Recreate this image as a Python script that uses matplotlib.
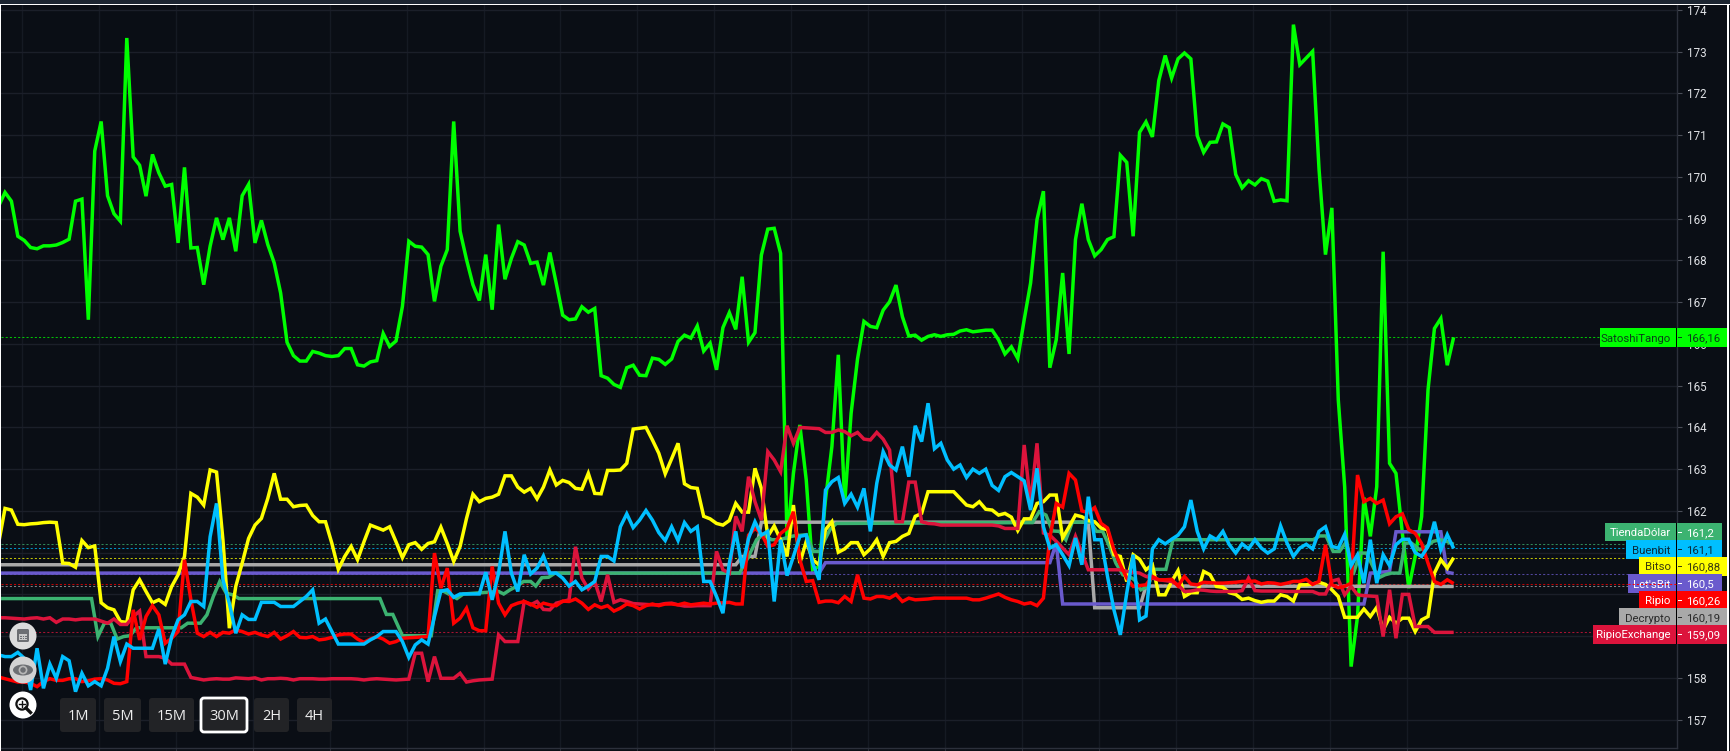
import numpy as np
import matplotlib
matplotlib.use('Agg')
import matplotlib.pyplot as plt
from matplotlib.patches import Rectangle, FancyBboxPatch, Ellipse, Circle
from matplotlib.lines import Line2D
from matplotlib.transforms import Affine2D

# Each list starts one 30 minute candle before the left edge (index -1)
satoshi = [
    169.30, 169.63, 169.42, 168.58, 168.48, 168.31, 168.28, 168.35, 168.35, 168.37,
    168.43, 168.51, 169.42, 169.47, 166.58, 170.62, 171.33, 169.55, 169.12, 168.94,
    173.33, 170.48, 170.28, 169.54, 170.54, 170.10, 169.78, 169.82, 168.42, 170.23,
    168.30, 168.31, 167.42, 168.34, 169.02, 168.50, 169.02, 168.22, 169.55, 169.82,
    168.42, 168.96, 168.38, 167.94, 167.22, 166.04, 165.72, 165.59, 165.59, 165.82,
    165.78, 165.72, 165.70, 165.72, 165.89, 165.89, 165.50, 165.47, 165.57, 165.60,
    166.25, 165.94, 166.07, 166.90, 168.46, 168.34, 168.32, 168.14, 167.02, 167.86,
    168.26, 171.33, 168.70, 168.02, 167.42, 167.04, 168.14, 166.82, 168.86,
    167.55, 168.05, 168.45, 168.37, 167.93, 167.96, 167.41, 168.19, 167.45, 166.69,
    166.58, 166.60, 166.89, 166.76, 166.85, 165.24, 165.18, 165.03, 164.96, 165.43,
    165.49, 165.25, 165.24, 165.66, 165.63, 165.51, 165.64, 166.06, 166.21, 166.14,
    166.43, 165.83, 166.02, 165.38, 166.39, 166.75, 166.35, 167.61, 166.04, 166.27,
    168.13, 168.75, 168.77, 168.17,
    161.30, 162.90, 164.06, 162.74, 160.59, 160.67, 162.26, 163.54, 165.74, 162.18,
    164.34, 165.64, 166.54, 166.42, 166.39, 166.81, 167.01, 167.41, 166.65, 166.19,
    166.21, 166.09, 166.18, 166.22, 166.18, 166.22, 166.23, 166.31, 166.34, 166.29,
    166.31, 166.33, 166.33,
    166.10, 165.76, 165.93, 165.65, 166.58, 167.46, 168.98, 169.66, 165.43, 166.10,
    167.70, 165.76, 168.50, 169.36, 168.50, 168.11, 168.26, 168.50, 168.57, 170.52,
    170.35, 168.58, 171.07, 171.32, 170.96, 172.31, 172.91, 172.37, 172.83, 172.97,
    172.83, 170.99, 170.59, 170.83, 170.84, 171.27, 171.18, 170.06, 169.74, 169.91,
    169.81, 169.96, 169.90, 169.42, 169.45, 169.43, 173.65, 172.69, 172.85, 173.01,
    170.18, 168.14, 169.26,
    164.66, 162.57, 158.27, 159.47, 162.32, 161.39, 162.58, 168.21, 163.14, 162.90,
    161.46, 160.15, 160.91, 161.86, 164.90, 166.37, 166.61, 165.49, 166.16,
]

bitso = [
    161.22, 162.06, 162.02, 161.68, 161.67, 161.69, 161.70, 161.72, 161.73, 161.72,
    160.75, 160.74, 160.65, 161.29, 161.12, 161.16, 159.80, 159.68, 159.63, 159.35,
    159.33, 160.11, 160.35, 160.07, 159.80, 159.87, 159.76, 160.19, 160.47, 160.91,
    162.42, 162.33, 162.14, 162.98, 162.93, 161.30, 159.19, 160.19, 160.75, 161.34,
    161.66, 161.82, 162.30, 162.90, 162.28, 162.28, 162.10, 162.13, 162.14, 161.89,
    161.74, 161.74, 161.22, 160.60, 160.91, 161.15, 160.83, 161.26, 161.66, 161.60,
    161.54, 161.62, 161.26, 160.88, 161.19, 161.24, 161.08, 161.22, 161.26, 161.61,
    161.22, 160.79, 161.15, 161.82, 162.40, 162.22, 162.30, 162.33, 162.40,
    162.84, 162.84, 162.57, 162.45, 162.54, 162.29, 162.57, 162.98, 162.62, 162.73,
    162.68, 162.54, 162.52, 162.90, 162.42, 162.41, 162.97, 162.97, 162.98, 163.14,
    163.96, 163.98, 164.00, 163.70, 163.38, 162.89, 163.25, 163.62, 162.65, 162.56,
    162.54, 161.87, 161.81, 161.70, 161.66, 161.77, 162.18, 161.97, 161.97, 163.02,
    162.54, 161.39, 161.64, 161.31, 160.91, 162.14, 160.75, 161.27, 160.83, 160.71,
    161.55, 161.74, 161.01, 161.09, 161.24, 161.24, 160.95, 161.09, 161.31, 160.91,
    161.24, 161.27, 161.39, 161.46, 161.87, 161.94, 162.46, 162.46, 162.46, 162.46,
    162.46, 162.30, 162.14, 162.10, 162.22, 162.04, 162.02, 161.90,
    161.94, 161.85, 161.53, 161.81, 161.81, 162.18, 162.22, 162.38, 162.38, 161.35,
    161.62, 161.90, 161.86, 161.77, 161.74, 161.59, 161.55, 160.95, 160.91, 160.31,
    160.95, 160.84, 160.59, 160.71, 159.99, 159.99, 160.31, 160.57, 159.95, 160.04,
    160.04, 160.55, 160.47, 160.19, 160.17, 160.04, 160.00, 159.88, 159.91, 159.85,
    159.81, 159.84, 159.84, 159.99, 159.95, 159.84, 160.23, 160.23, 160.25, 160.29,
    160.24, 160.11, 159.95, 159.45, 159.45, 159.45, 159.65, 159.47, 159.69, 159.15,
    159.45, 159.31, 159.43, 159.43, 159.11, 159.39, 159.47, 160.51, 160.83, 160.63,
    160.88,
]

buenbit = [
    158.55, 158.51, 158.51, 158.61, 158.47, 157.71, 158.71, 157.75, 158.33, 157.99,
    158.51, 158.41, 157.67, 158.11, 157.81, 157.91, 157.81, 158.23, 158.99, 158.39,
    158.81, 158.71, 158.71, 158.71, 158.71, 159.17, 158.33, 158.99, 159.39, 159.51,
    159.83, 159.83, 159.71, 161.38, 162.18, 160.35, 159.79, 159.07, 159.51, 159.40,
    159.40, 159.81, 159.81, 159.81, 159.71, 159.71, 159.71, 159.83, 159.95, 160.11,
    159.31, 159.41, 159.11, 158.81, 158.81, 158.81, 158.81, 158.81, 158.91, 158.99,
    159.11, 159.11, 159.11, 158.87, 158.49, 158.79, 158.91, 158.81, 159.47, 160.08,
    160.11, 159.93, 160.01, 160.01, 160.01, 160.01, 160.53, 159.87, 160.51,
    161.51, 160.51, 160.07, 160.95, 160.49, 160.63, 160.92, 160.51, 160.51, 160.39,
    160.20, 160.31, 160.11, 160.20, 160.31, 160.91, 160.91, 160.80, 161.62, 161.93,
    161.60, 161.78, 162.01, 161.78, 161.48, 161.29, 161.62, 161.29, 161.72, 161.51,
    161.62, 160.31, 160.31, 159.95, 159.55, 160.75, 161.51, 160.63, 161.34, 161.74,
    161.42, 161.51, 159.83, 161.31, 160.45, 160.91, 161.39, 161.42, 160.75, 160.35,
    162.50, 162.70, 162.80, 162.18, 162.40, 162.09, 162.54, 161.51, 162.66, 163.42,
    163.10, 162.98, 163.54, 162.82, 164.04, 163.66, 164.58, 163.49, 163.62, 163.22,
    163.00, 163.10, 162.80, 163.00, 162.90, 163.00, 162.61, 162.49,
    162.82, 162.92, 162.82, 162.72, 162.02, 163.02, 161.62, 161.11, 161.19, 160.95,
    160.69, 161.35, 160.71, 162.34, 161.31, 161.31, 160.43, 159.63, 159.03, 160.03,
    160.95, 159.39, 159.48, 161.09, 161.31, 161.21, 161.32, 161.42, 161.62, 162.26,
    161.51, 161.09, 161.40, 161.31, 161.51, 161.19, 160.99, 161.21, 161.09, 161.31,
    161.11, 160.99, 161.09, 161.64, 161.23, 160.91, 161.11, 161.20, 161.09, 161.51,
    161.62, 161.15, 161.11, 161.44, 160.69, 160.95, 160.27, 161.31, 160.27, 160.95,
    160.69, 161.19, 161.32, 161.32, 161.00, 160.91, 161.15, 161.74, 161.07, 161.43,
    161.10,
]

ripio = [
    158.02, 157.98, 157.94, 157.90, 157.90, 157.87, 157.79, 157.91, 157.98, 157.94,
    157.94, 157.98, 157.98, 157.91, 157.93, 157.97, 157.98, 157.95, 157.87, 157.86,
    157.91, 159.63, 158.91, 159.47, 159.73, 159.51, 158.83, 158.95, 159.11, 160.83,
    159.87, 159.07, 158.99, 159.09, 158.99, 159.09, 159.07, 159.15, 159.11, 159.05,
    159.09, 159.03, 158.99, 159.09, 158.93, 159.01, 159.11, 158.97, 158.96, 158.99,
    158.91, 158.93, 158.97, 159.03, 159.05, 159.05, 158.93, 158.85, 158.93, 158.99,
    158.93, 158.83, 158.87, 158.95, 158.96, 158.97, 158.98, 158.99, 160.99, 160.15,
    160.63, 159.31, 159.43, 159.67, 159.20, 159.13, 159.13, 160.67, 159.79,
    159.51, 159.73, 159.79, 159.83, 159.77, 159.69, 159.79, 159.75, 159.73, 159.84,
    159.83, 159.89, 159.79, 159.64, 159.75, 159.68, 159.73, 159.60, 159.67, 159.77,
    159.73, 159.65, 159.73, 159.77, 159.73, 159.77, 159.77, 159.75, 159.79, 159.75,
    159.77, 159.79, 159.77, 159.79, 159.80, 159.81, 159.77, 159.77, 161.42, 161.58,
    161.46, 161.15, 161.19, 161.46, 161.58, 161.98, 160.83, 160.31, 160.33, 159.81,
    159.84, 159.84, 159.80, 159.95, 159.83, 160.47, 159.91, 159.89, 159.95, 159.95,
    159.91, 160.00, 159.83, 159.91, 159.87, 159.88, 159.89, 159.91, 159.91, 159.91,
    159.91, 159.91, 159.91, 159.87, 159.87, 159.91, 159.96, 160.01,
    159.93, 159.87, 159.83, 159.77, 159.80, 159.73, 159.91, 161.35, 162.18, 162.09,
    162.90, 162.74, 162.00, 161.96, 162.08, 161.70, 161.59, 161.07, 160.71, 160.39,
    160.19, 160.21, 160.23, 160.43, 160.35, 160.35, 160.36, 160.20, 160.43, 160.25,
    160.23, 160.29, 160.28, 160.27, 160.27, 160.28, 160.29, 160.31, 160.31, 160.32,
    160.25, 160.28, 160.27, 160.24, 160.27, 160.31, 160.31, 160.36, 160.24, 160.31,
    161.19, 160.23, 160.16, 160.19, 160.27, 162.86, 162.22, 162.30, 162.18, 162.26,
    161.69, 161.86, 161.93, 161.55, 161.46, 161.22, 160.75, 160.31, 160.24, 160.35,
    160.26,
]

ripio_ex = [
    159.44, 159.44, 159.43, 159.42, 159.41, 159.43, 159.44, 159.41, 159.44, 159.33,
    159.41, 159.41, 159.39, 159.41, 159.41, 159.41, 159.36, 159.31, 159.41, 159.28,
    159.28, 159.47, 159.60, 158.51, 158.51, 158.51, 158.47, 158.33, 158.33, 158.33,
    158.01, 157.98, 157.95, 157.97, 157.98, 157.97, 157.97, 158.00, 157.99, 157.98,
    158.00, 157.95, 157.98, 157.98, 157.99, 157.98, 157.95, 157.98, 157.98, 157.98,
    157.97, 157.97, 157.98, 157.98, 157.98, 157.98, 157.97, 157.95, 157.97, 157.98,
    157.97, 157.96, 157.95, 157.96, 157.97, 158.59, 158.59, 157.91, 158.51, 157.99,
    157.99, 157.99, 158.11, 157.90, 157.93, 157.95, 157.96, 157.97, 159.03,
    158.87, 158.87, 158.87, 159.83, 159.75, 159.83, 159.64, 159.63, 159.79, 159.83,
    159.87, 161.14, 160.39, 160.13, 160.31, 159.83, 160.47, 159.81, 159.87, 159.83,
    159.78, 159.77, 159.76, 159.75, 159.75, 159.78, 159.79, 159.75, 159.72, 159.72,
    159.73, 159.73, 159.73, 161.03, 160.59, 160.51, 161.87, 161.51, 162.82, 162.22,
    161.78, 163.42, 163.22, 162.94, 164.04, 163.62, 164.00, 163.99, 163.98, 163.97,
    163.88, 163.88, 163.94, 163.90, 163.80, 163.88, 163.72, 163.70, 163.88, 163.72,
    163.46, 161.74, 161.74, 162.69, 162.69, 161.74, 161.70, 161.69, 161.66, 161.66,
    161.66, 161.66, 161.66, 161.66, 161.66, 161.66, 161.66, 161.64,
    161.58, 161.58, 161.58, 163.58, 162.18, 163.62, 161.47, 161.42, 161.27, 161.11,
    160.95, 161.39, 160.99, 160.59, 160.59, 160.59, 160.59, 160.59, 160.59, 160.55,
    160.53, 160.51, 160.43, 160.39, 160.35, 160.33, 160.31, 160.23, 160.07, 160.08,
    160.11, 160.10, 160.08, 160.07, 160.07, 160.07, 160.07, 160.09, 160.39, 160.09,
    160.08, 160.08, 160.08, 160.08, 160.07, 160.07, 160.07, 160.07, 160.07, 160.01,
    160.01, 160.32, 160.36, 159.99, 160.19, 159.99, 159.97, 159.96, 159.95, 158.99,
    160.11, 158.95, 160.00, 160.00, 159.23, 159.23, 159.23, 159.09, 159.09, 159.09,
    159.09,
]

# these mostly sit flat, so only their corners
tienda_t = [-1, 13.5, 14.5, 15.5, 16.5, 17.5, 18.5, 19.5, 20.5, 27.5, 28.5, 30.5, 31.5, 32.5, 33.5, 34.5, 35.5, 36.5,
            58.5, 59.5, 60.5, 62, 66.5, 67.5, 68.5, 70.5, 71.5, 77, 77.8, 78.8, 79.9, 80.9, 82, 82.8, 83.75, 84.8, 85.8,
            114.6, 116, 117.25, 118.3, 119.6, 120.9, 122.2, 123, 125, 126.1, 127.1, 127.9, 128.7, 129.7,
            160.3, 161.35, 162.4, 163.4, 164.5, 165.5, 166.5, 169.4, 170.3, 171.25, 172.3, 173.3, 174.4, 175.4, 176.2,
            177.2, 178.3, 179.3, 181.1, 182.2, 204.1, 205.1, 206.1, 207.2, 208.2, 209.3, 210.3, 211.4, 212.4, 213.4,
            214.2, 215.3, 216.3, 217.6, 218.4, 219.4, 220.7, 221.8, 222.8, 223.9, 224.9, 226]
tienda = [159.90, 159.90, 158.99, 159.31, 159.31, 158.93, 158.99, 159.01, 159.20, 159.20, 159.31, 159.31, 159.51, 159.95, 160.31, 160.03, 159.99, 159.90,
          159.90, 159.52, 159.52, 159.01, 159.01, 160.09, 160.07, 159.90, 160.01, 160.07, 160.01, 160.11, 160.20, 160.31, 160.31, 160.20, 160.40, 160.41, 160.51,
          160.51, 160.91, 161.31, 161.43, 161.31, 161.31, 161.37, 161.40, 161.43, 161.03, 161.03, 161.31, 161.55, 161.70,
          161.72, 161.98, 161.90, 161.52, 161.51, 161.31, 161.73, 161.73, 161.51, 161.51, 161.15, 160.75, 160.47, 160.43, 160.35,
          160.11, 160.19, 160.60, 160.60, 161.31, 161.31, 161.40, 161.40, 161.03, 161.03, 161.27, 160.47, 160.99, 160.99, 160.67,
          160.39, 160.47, 160.51, 160.51, 161.23, 161.23, 161.07, 161.15, 161.27, 161.31, 161.27, 161.20]

decrypto_t = [-1, 114, 115, 117, 118, 169, 170, 177, 178, 226]
decrypto = [160.71, 160.71, 160.91, 160.91, 161.73, 161.73, 159.68, 159.68, 160.20, 160.19]

letsbit_t = [-1, 127, 128, 163, 164, 165, 212, 213, 216, 217, 224, 225, 226]
letsbit = [160.51, 160.51, 160.76, 160.76, 161.23, 159.77, 159.77, 160.51, 160.55, 161.50, 161.50, 160.53, 160.50]

price_ticks = [157, 158, 162, 163, 164, 165, 166, 167, 168, 169, 170, 171, 172, 173, 174]
grid_prices = list(range(157, 175))

# name, last price, colour, tag text colour, tag box (left, top, right, bottom)
tags = [
    ('SatoshiTango', '166,16', 166.16, '#00ff00', '#0b3d1a', (1600, 328, 1727, 347)),
    ('TiendaDólar', '161,2', 161.2, '#3cb371', '#ffffff', (1605, 523, 1722, 541)),
    ('Buenbit', '161,1', 161.1, '#00bfff', '#0a2a3a', (1626, 540, 1722, 559)),
    ('Bitso', '160,88', 160.88, '#ffff00', '#3a3a10', (1639, 557, 1727, 576)),
    ("Let'sBit", '160,5', 160.5, '#6a5acd', '#ffffff', (1628, 574, 1722, 593)),
    ('Ripio', '160,26', 160.26, '#ff0000', '#ffffff', (1639, 591, 1727, 610)),
    ('Decrypto', '160,19', 160.19, '#a9a9a9', '#2a2a2a', (1619, 608, 1727, 627)),
    ('RipioExchange', '159,09', 159.09, '#dc143c', '#ffffff', (1593, 625, 1727, 644)),
]

buttons = [('1M', 60, 96), ('5M', 104, 141), ('15M', 149, 194), ('30M', 201, 247), ('2H', 254, 289), ('4H', 297, 332)]

BG = '#0a0e15'
W, H = 1731, 751
STEP = 6.41

plt.rcParams['font.family'] = ['Roboto', 'DejaVu Sans']

fig = plt.figure(figsize=(W / 100, H / 100), dpi=100, facecolor=BG)
ax = fig.add_axes([1 / W, 1 - 748 / H, 1676 / W, 743 / H], facecolor=BG)
ax.set_xlim((1 - 5) / STEP, (1677 - 5) / STEP)
ax.set_ylim(156.32, 174.12)

# grid, the 159-161 labels sit under the price tags so they get no text
ax.set_yticks(grid_prices)
ax.set_yticklabels([str(p) if p in price_ticks else '' for p in grid_prices])
ax.set_xticks(np.arange(2.65, 226, 12))
ax.set_xticklabels([])
ax.grid(axis='y', color='#1b1f29', lw=1)
ax.grid(axis='x', color='#151a23', lw=1)
ax.set_axisbelow(True)
ax.yaxis.tick_right()
ax.tick_params(axis='y', colors='#e0e2e6', labelsize=8.4, length=3.6, width=0.8, color='#4a4e58', pad=3.6)
ax.tick_params(axis='x', length=2, color='#2a2e39')
for name in ['left', 'top']:
    ax.spines[name].set_visible(False)
for name in ['right', 'bottom']:
    ax.spines[name].set_color('#2c303b')
    ax.spines[name].set_linewidth(1)

colors = {t[0]: t[3] for t in tags}

# last price lines
for name, _, price, color, _, _ in tags:
    ax.axhline(price, color=color, lw=0.75, ls=(0, (2, 2)), alpha=0.75, zorder=1.5)

full_x = np.arange(-1, len(satoshi) - 1)
style = dict(lw=2.5, solid_joinstyle='miter', solid_capstyle='butt')
ax.plot(full_x, satoshi, color=colors['SatoshiTango'], zorder=2, **style)
ax.plot(decrypto_t, decrypto, color=colors['Decrypto'], zorder=2.1, **style)
ax.plot(letsbit_t, letsbit, color=colors["Let'sBit"], zorder=2.2, **style)
ax.plot(tienda_t, tienda, color=colors['TiendaDólar'], zorder=2.3, **style)
ax.plot(np.arange(-1, len(bitso) - 1), bitso, color=colors['Bitso'], zorder=2.4, **style)
ax.plot(np.arange(-1, len(ripio_ex) - 1), ripio_ex, color=colors['RipioExchange'], zorder=2.5, **style)
ax.plot(np.arange(-1, len(ripio) - 1), ripio, color=colors['Ripio'], zorder=2.6, **style)
ax.plot(np.arange(-1, len(buenbit) - 1), buenbit, color=colors['Buenbit'], zorder=2.7, **style)

# everything below is page furniture, placed in pixels with y going down
px = Affine2D().scale(1, -1).translate(0, H)


def box(x0, y0, x1, y1, color, z=3):
    fig.add_artist(Rectangle((x0, y0), x1 - x0, y1 - y0, fc=color, ec='none', transform=px, zorder=z))


box(0, 0, W, 4, '#1c2531')
box(0, 4, W, 5, '#ffffff')
box(0, 4, 1, H, '#ffffff')
box(1727, 4, 1729, H, '#ffffff')

# price tags
for i, (name, label, price, color, text_color, (x0, y0, x1, y1)) in enumerate(tags):
    z = 3 + i * 0.01
    box(x0, y0, x1, y1, color, z)
    box(1676, y0, 1677, y1, '#000000', z)
    mid = (y0 + y1) / 2
    box(1678, mid - 0.5, 1682, mid + 0.5, text_color, z)
    fig.text(1670.5, mid, name, transform=px, color=text_color, fontsize=8.2, ha='right', va='center_baseline', zorder=z)
    fig.text(1686.5, mid, label, transform=px, color=text_color, fontsize=8.2, ha='left', va='center_baseline', zorder=z)

# the Ripio line runs over the Let'sBit tag in the original
fig.add_artist(Line2D([1628, 1676], [584, 584], color=colors['Ripio'], lw=0.75, ls=(0, (2, 2)), transform=px, zorder=3.5))

# timeframe buttons
for name, x0, x1 in buttons:
    active = name == '30M'
    fig.add_artist(FancyBboxPatch((x0 + 3, 701), x1 - x0 - 6, 28, boxstyle='round,pad=3,rounding_size=3',
                                  fc='#222326', ec='#ffffff' if active else 'none', lw=2 if active else 0,
                                  transform=px, zorder=4))
    fig.text((x0 + x1) / 2, 715, name, transform=px, color='#eeeeee', fontsize=10.5, ha='center',
             va='center_baseline', family=['Open Sans', 'DejaVu Sans'], zorder=4.1)

# round tool icons
fig.add_artist(Circle((23, 636), 13.5, fc='#dcdcdc', ec='none', transform=px, zorder=4))
fig.add_artist(Circle((23, 670), 13.5, fc='#d2d2d2', ec='none', transform=px, zorder=4))
fig.add_artist(Circle((23, 705), 13.5, fc='#ffffff', ec='none', transform=px, zorder=4))

# calendar
fig.add_artist(FancyBboxPatch((18, 630), 10, 11, boxstyle='round,pad=1,rounding_size=1.5', fc='#6d6f73', ec='none',
                              transform=px, zorder=4.1))
box(19, 634, 27, 640, '#c9c9c9', 4.2)
for cx in [20, 22.5, 25]:
    box(cx, 635.5, cx + 1.5, 637, '#6d6f73', 4.3)
    box(cx, 637.8, cx + 1.5, 639.2, '#6d6f73', 4.3)
# eye
fig.add_artist(Ellipse((23, 670), 20, 11, fc='#6d6f73', ec='none', transform=px, zorder=4.1))
fig.add_artist(Circle((23, 670), 3.6, fc='none', ec='#b8b8b8', lw=1.2, transform=px, zorder=4.2))
# magnifier
fig.add_artist(Circle((22, 704), 5.6, fc='none', ec='#111111', lw=1.6, transform=px, zorder=4.1))
fig.add_artist(Line2D([26, 30.5], [708, 712.5], color='#111111', lw=2.4, transform=px, zorder=4.1))
fig.add_artist(Line2D([19.3, 24.7], [704, 704], color='#111111', lw=1, transform=px, zorder=4.1))
fig.add_artist(Line2D([22, 22], [701.3, 706.7], color='#111111', lw=1, transform=px, zorder=4.1))

fig.savefig('out.png', dpi=100, facecolor=BG)
